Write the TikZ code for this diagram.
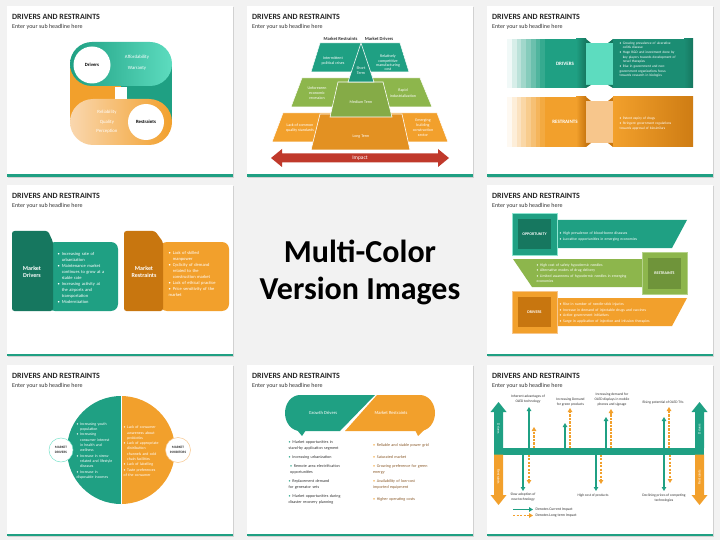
\documentclass[tikz,border=0pt]{standalone}
\usepackage{fontspec}
\setmainfont{Carlito}
\usepackage{xcolor}
\usepackage{tikz}
\usetikzlibrary{positioning, arrows.meta}
\definecolor{BG}{HTML}{F2F2F2}
\definecolor{T1}{HTML}{1FA083}
\definecolor{TD}{HTML}{16775F}
\definecolor{TL}{HTML}{5DDCBF}
\definecolor{O1}{HTML}{F2A02C}
\definecolor{OD}{HTML}{C8760F}
\definecolor{OL}{HTML}{F7C68C}
\definecolor{G1}{HTML}{8DB64C}
\definecolor{GD}{HTML}{6F943A}
\definecolor{GL}{HTML}{B5D38A}
\definecolor{R1}{HTML}{C0392B}
\definecolor{TX}{HTML}{333333}
\definecolor{BR}{HTML}{8A5A2A}
\newcommand{\fsz}[2]{\fontsize{#1}{#2}\selectfont}
\newcommand{\bitem}[2][.]{\par\hangindent=0.9em\hangafter=1\noindent\hbox to 0.9em{\textcolor{#1}{\textbullet}\hss}#2}

\begin{document}
\begin{tikzpicture}[
	x=1pt, y=-1pt,
	head/.style = {anchor=west, inner sep=0pt, text=black!85, font=\bfseries\fsz{8}{9.6}},
	subhead/.style = {anchor=west, inner sep=0pt, text=black!80, font=\fsz{6}{7.2}},
	wlbl/.style = {inner sep=0pt, align=center, text=white},
	dlbl/.style = {inner sep=0pt, align=center, text=TX},
	blist/.style = {anchor=west, inner sep=0pt, align=left, text width=#1},
	cur/.style = {draw=T1, line width=1.1pt, -{Triangle[length=4pt, width=4.5pt]}},
	lng/.style = {draw=O1, line width=1.1pt, dash pattern=on 2.2pt off 1.3pt, -{Triangle[length=4pt, width=4.5pt]}}
]
  \useasboundingbox (0,0) rectangle (720,540);
  \fill[BG] (0,0) rectangle (720,540);

  % Slide frames
  \foreach \sx/\sy/\sn in {7/6/a, 247/6/b, 487/6/c, 7/185/d, 487/185/f, 7/365/g, 247/365/h, 487/365/i} {
    \fill[black!18] (\sx+1.2,\sy+1.2) rectangle ++(226,171);
    \fill[white] (\sx,\sy) rectangle ++(226,171);
    \fill[T1] (\sx,\sy+168.5) rectangle ++(226,2.5);
    \node[head] (title-\sn) at (\sx+5,\sy+10.5) {DRIVERS AND RESTRAINTS};
    \node[subhead] (sub-\sn) at (\sx+5,\sy+20.5) {Enter your sub headline here};
  }

  % Center caption
  \node[inner sep=0pt, align=center, font=\bfseries\fsz{32}{37}] (mcv) at (360,272) {Multi-Color\\Version Images};

  % Slide 1: two pills
  \fill[O1] (70,64) rectangle (121,122);
  \fill[T1] (121,64) rectangle (172,122);
  \shade[left color=T1, right color=TL, rounded corners=22pt] (70,42) rectangle (172,86);
  \shade[left color=OL!70!white, right color=O1, rounded corners=23pt] (70,99) rectangle (172,145);
  \fill[white] (115,87) rectangle (127,99);
  \node[circle, fill=white, minimum size=37pt, inner sep=0pt, font=\bfseries\fsz{4.8}{5.8}] (drv) at (92,65) {Drivers};
  \node[circle, fill=white, minimum size=36pt, inner sep=0pt, font=\bfseries\fsz{4.8}{5.8}] (rst) at (146,122) {Restraints};
  \node[wlbl, font=\fsz{4.8}{5.8}] (aff) at (137,57) {Affordability};
  \node[wlbl, font=\fsz{4.8}{5.8}] (war) at (137,68.5) {Warranty};
  \node[wlbl, font=\fsz{4.8}{5.8}] (rel) at (107,112.5) {Reliability};
  \node[wlbl, font=\fsz{4.8}{5.8}] (qua) at (107,122) {Quality};
  \node[wlbl, font=\fsz{4.8}{5.8}] (per) at (107,131.7) {Perception};

  % Slide 2: pyramid
  \fill[O1, draw=white, line width=0.5pt] (283,113) -- (437,113) -- (448,142) -- (272,142) -- cycle;
  \fill[G1, draw=white, line width=0.5pt] (302,78) -- (420,78) -- (432,107) -- (291,107) -- cycle;
  \fill[T1, draw=white, line width=0.5pt] (320,43) -- (400,43) -- (409,72) -- (311,72) -- cycle;
  \fill[OD!35!O1, draw=white, line width=0.6pt] (320,114) -- (402,114) -- (410,150) -- (311,150) -- cycle;
  \fill[G1!94!black, draw=white, line width=0.6pt] (338,82) -- (383,82) -- (392,117) -- (330,117) -- cycle;
  \fill[T1!94!black, draw=white, line width=0.6pt] (361,43) -- (374,82) -- (348,82) -- cycle;
  \node[dlbl, font=\bfseries\fsz{4.6}{5.5}] (mrl) at (340.5,39) {Market Restraints};
  \node[dlbl, font=\bfseries\fsz{4.6}{5.5}] (mdl) at (379,39) {Market Drivers};
  \node[wlbl, font=\fsz{4}{4.6}] (t1l) at (333,61) {Intermittent\\political crises};
  \node[wlbl, font=\fsz{4}{4.4}] (t1r) at (388,63) {Relatively\\competitive\\manufacturing\\cost};
  \node[wlbl, font=\fsz{4}{5}] (stt) at (361,71) {Short\\Term};
  \node[wlbl, font=\fsz{4}{5}] (t2l) at (317,93) {Unforeseen\\economic\\recession};
  \node[wlbl, font=\fsz{4}{5.5}] (t2r) at (403,93) {Rapid\\industrialization};
  \node[wlbl, font=\fsz{4}{5}] (mdt) at (361,102) {Medium Term};
  \node[wlbl, font=\fsz{4}{5.6}] (t3l) at (300,128) {Lack of common\\quality standards};
  \node[wlbl, font=\fsz{4}{5}] (t3r) at (423,127.5) {Emerging\\building\\construction\\sector};
  \node[wlbl, font=\fsz{4}{5}] (lgt) at (361,136.5) {Long Term};
  \fill[R1] (271,158) -- (282,149) -- (282,153.5) -- (438,153.5) -- (438,149) -- (449,158) -- (438,167) -- (438,162.5) -- (282,162.5) -- (282,167) -- cycle;
  \node[wlbl, font=\fsz{5.5}{6.5}] (imp) at (360,158) {Impact};

  % Slide 3: bands
  \foreach \i [evaluate=\i as \pc using int(6+\i*12)] in {0,...,7} {
    \fill[T1!\pc] (507+\i*4.75,39) rectangle ++(4.8,49);
    \fill[O1!\pc] (507+\i*4.75,97) rectangle ++(4.8,50);
  }
  \fill[T1] (545,39) rectangle (586,88);
  \shade[left color=T1, right color=TD] (576,39) rectangle (586,88);
  \fill[TL] (586,43) rectangle (613,85);
  \fill[TD] (586,39) -- (591,43) -- (586,43) -- cycle;
  \fill[TD] (613,39) -- (608,43) -- (613,43) -- cycle;
  \fill[TD] (586,88) -- (591,85) -- (586,85) -- cycle;
  \fill[TD] (613,88) -- (608,85) -- (613,85) -- cycle;
  \fill[T1!88!black] (613,39) rectangle (693,88);
  \shade[left color=T1!88!black, right color=TD] (684,39) rectangle (693,88);
  \node[wlbl, font=\bfseries\fsz{5}{6}] (drvb) at (565,64) {DRIVERS};
  \node[blist=80pt, text=white, font={\fsz{3.5}{4.3}\setlength{\parskip}{1.1pt}}] (drvl) at (619.5,58) {\bitem{Growing prevalence of ulcerative\newline colitis disease}\bitem{Huge R\&D and investment done by\newline key players towards development of\newline novel therapies}\bitem{Rise in government and non-\newline government organizations focus\newline towards research in biologics}};
  \fill[O1] (545,97) rectangle (586,147);
  \shade[left color=O1, right color=OD] (576,97) rectangle (586,147);
  \fill[OL] (586,101) rectangle (613,143);
  \fill[OD] (586,97) -- (591,101) -- (586,101) -- cycle;
  \fill[OD] (613,97) -- (608,101) -- (613,101) -- cycle;
  \fill[OD] (586,147) -- (591,143) -- (586,143) -- cycle;
  \fill[OD] (613,147) -- (608,143) -- (613,143) -- cycle;
  \shade[left color=O1, right color=OD!85!O1] (613,97) rectangle (693,147);
  \node[wlbl, font=\bfseries\fsz{5}{6}] (rstb) at (565,122) {RESTRAINTS};
  \node[blist=80pt, text=white, font={\fsz{3.5}{4.3}\setlength{\parskip}{1.1pt}}] (rstl) at (619.5,122) {\bitem{Patent expiry of drugs}\bitem{Stringent government regulations\newline towards approval of biosimilars}};

  % Slide 4: folder tabs
  \fill[T1, rounded corners=7pt] (48,242) -- (118,242) -- (118,311) -- (48,311) -- cycle;
  \fill[TD, rounded corners=2.5pt] (12,311) -- (12,231) -- (48,231) -- (53,242) -- (53,311) -- cycle;
  \node[wlbl, font=\bfseries\fsz{6}{7.6}] (mkd) at (32,272) {Market\\Drivers};
  \node[blist=62pt, text=white, font={\fsz{4.5}{6}\setlength{\parskip}{0pt}}] (mkdl) at (57.5,276.5) {\bitem{Increasing rate of\newline urbanization}\bitem{Maintenance market\newline continues to grow at a\newline stable rate}\bitem{Increasing activity at\newline the airports and\newline transportation}\bitem{Modernization}};
  \fill[O1, rounded corners=7pt] (160,242) -- (229,242) -- (229,311) -- (160,311) -- cycle;
  \fill[OD, rounded corners=2.5pt] (124,311) -- (124,231) -- (155,231) -- (163,242) -- (163,311) -- cycle;
  \node[wlbl, font=\bfseries\fsz{6}{7.6}] (mkr) at (144,272) {Market\\Restraints};
  \node[blist=62pt, text=white, font={\fsz{4.5}{6}\setlength{\parskip}{0pt}}] (mkrl) at (168.5,273) {\bitem{Lack of skilled\newline manpower}\bitem{Cyclicity of demand\newline related to the\newline construction market}\bitem{Lack of ethical practice}\bitem{Price sensitivity of the\newline market}};

  % Slide 6: banners
  \fill[T1] (557,220) -- (687,220) -- (672,248) -- (557,248) -- cycle;
  \fill[T1, draw=TL!70, line width=0.6pt] (512,213) rectangle (557,255);
  \fill[TD] (518,219) rectangle (551,249);
  \node[wlbl, font=\bfseries\fsz{4}{5}] (opp) at (534.5,234) {OPPORTUNITY};
  \node[blist=120pt, text=white, font={\fsz{3.8}{5.5}\setlength{\parskip}{0pt}}] (oppl) at (559.5,235) {\bitem{High prevalence of blood-borne diseases}\bitem{Lucrative opportunities in emerging economies}};
  \fill[G1] (513,259) -- (642,259) -- (642,287) -- (532,287) -- cycle;
  \fill[G1, draw=GL, line width=0.6pt] (642,252) rectangle (687,294);
  \fill[GD] (648,258) rectangle (681,289);
  \node[wlbl, font=\bfseries\fsz{4}{5}] (rstg) at (664.5,273.5) {RESTRAINTS};
  \node[blist=110pt, text=white, font={\fsz{3.8}{5.3}\setlength{\parskip}{0pt}}] (rstgl) at (536.5,272) {\bitem{High cost of safety hypodermic needles}\bitem{Alternative modes of drug delivery}\bitem{Limited awareness of hypodermic needles in emerging}\par\noindent economies};
  \fill[O1] (557,298) -- (687,298) -- (672,326) -- (557,326) -- cycle;
  \fill[O1, draw=OL, line width=0.6pt] (512,291) rectangle (557,333);
  \fill[OD] (518,297) rectangle (551,327);
  \node[wlbl, font=\bfseries\fsz{4}{5}] (drvo) at (534.5,312) {DRIVERS};
  \node[blist=120pt, text=white, font={\fsz{3.8}{5.6}\setlength{\parskip}{0pt}}] (drvol) at (559.5,311.5) {\bitem{Rise in number of needle-stick injuries}\bitem{Increase in demand of injectable drugs and vaccines}\bitem{Active government initiatives}\bitem{Surge in application of injection and infusion therapies}};

  % Slide 7: split circle
  \fill[T1] (121,396) arc[start angle=270, end angle=90, radius=54] -- cycle;
  \fill[O1] (121,396) arc[start angle=270, end angle=450, radius=54] -- cycle;
  \draw[white, line width=0.8pt] (121,396) -- (121,504);
  \node[circle, fill=white, draw=TL!80, line width=0.5pt, minimum size=24pt, inner sep=0pt, align=center, text=TX, font=\bfseries\fsz{3.4}{4.2}] (mkdc) at (61,450) {MARKET\\DRIVERS};
  \node[circle, fill=white, draw=OL, line width=0.5pt, minimum size=25pt, inner sep=0pt, align=center, text=TX, font=\bfseries\fsz{3.4}{4.2}] (mkic) at (178,450) {MARKET\\INHIBITORS};
  \node[blist=50pt, text=white, font={\fsz{3.9}{5.3}\setlength{\parskip}{0pt}}] (mkdl7) at (76.5,449.5) {\bitem{Increasing youth\newline population}\bitem{Increasing\newline consumer interest\newline in health and\newline wellness}\bitem{Increase in stress-\newline related and lifestyle\newline diseases}\bitem{Increase in\newline disposable incomes}};
  \node[blist=50pt, text=white, font={\fsz{3.9}{5.3}\setlength{\parskip}{0pt}}] (mkil7) at (123.5,450) {\bitem{Lack of consumer\newline awareness about\newline probiotics}\bitem{Lack of appropriate\newline distribution\newline channels and cold\newline chain facilities}\bitem{Lack of labelling}\bitem{Taste preferences\newline of the consumer}};

  % Slide 8: speech shapes
  \fill[T1] (375,395) -- (300,395) arc[start angle=270, end angle=90, x radius=15, y radius=18] -- (340,431) -- cycle;
  \fill[T1] (297,430) -- (302,436) -- (306,430) -- cycle;
  \fill[O1] (377,395) -- (420,395) arc[start angle=270, end angle=450, x radius=15, y radius=18] -- (345,431) -- cycle;
  \fill[O1] (415,430) -- (418,436) -- (424,430) -- cycle;
  \node[wlbl, font=\fsz{4.6}{5.5}] (grd) at (323,413) {Growth Drivers};
  \node[wlbl, font=\fsz{4.6}{5.5}] (mkrs) at (391,413) {Market Restraints};
  \node[blist=80pt, text=TX, font=\fsz{4.1}{6}] (gd1) at (288.5,444) {\bitem[T1]{Market opportunities in\newline stand-by application segment}};
  \node[blist=80pt, text=TX, font=\fsz{4.1}{6}] (gd2) at (288.5,456) {\bitem[T1]{Increasing urbanization}};
  \node[blist=80pt, text=TX, font=\fsz{4.1}{6}] (gd3) at (290,468) {\bitem[T1]{Remote area electrification\newline opportunities}};
  \node[blist=80pt, text=TX, font=\fsz{4.1}{6}] (gd4) at (288.5,483) {\bitem[T1]{Replacement demand\newline for generator sets}};
  \node[blist=80pt, text=TX, font=\fsz{4.1}{6}] (gd5) at (288.5,498) {\bitem[T1]{Market opportunities during\newline disaster recovery planning}};
  \node[blist=80pt, text=BR, font=\fsz{4.1}{6}] (mr1) at (373,444) {\bitem[O1]{Reliable and stable power grid}};
  \node[blist=80pt, text=BR, font=\fsz{4.1}{6}] (mr2) at (373,456) {\bitem[O1]{Saturated market}};
  \node[blist=80pt, text=BR, font=\fsz{4.1}{6}] (mr3) at (373,468) {\bitem[O1]{Growing preference for green\newline energy}};
  \node[blist=80pt, text=BR, font=\fsz{4.1}{6}] (mr4) at (373,483) {\bitem[O1]{Availability of low-cost\newline imported equipment}};
  \node[blist=80pt, text=BR, font=\fsz{4.1}{6}] (mr5) at (373,498) {\bitem[O1]{Higher operating costs}};

  % Slide 9: impact chart
  \fill[T1] (494,448) rectangle (704,454.5);
  \fill[T1] (494,448) -- (494,412) -- (490.5,412) -- (498.5,402) -- (506.5,412) -- (503,412) -- (503,448) -- cycle;
  \fill[T1] (695,448) -- (695,412) -- (691.5,412) -- (699.5,402) -- (707.5,412) -- (704,412) -- (704,448) -- cycle;
  \fill[O1] (494,454.5) -- (494,495) -- (490.5,495) -- (498.5,505) -- (506.5,495) -- (503,495) -- (503,454.5) -- cycle;
  \fill[O1] (695,454.5) -- (695,495) -- (691.5,495) -- (699.5,505) -- (707.5,495) -- (704,495) -- (704,454.5) -- cycle;
  \node[wlbl, rotate=-90, font=\fsz{3.6}{4.3}] (drl) at (498.5,429) {Drivers};
  \node[wlbl, rotate=90, font=\fsz{3.6}{4.3}] (drr) at (699.5,429) {Drivers};
  \node[wlbl, rotate=-90, font=\fsz{3.6}{4.3}] (rsl) at (498.5,477) {Restraints};
  \node[wlbl, rotate=90, font=\fsz{3.6}{4.3}] (rsr) at (699.5,477) {Restraints};
  \foreach \n/\x/\y in {1/529/407, 3/565/423, 5/606/417, 7/664/417} {
    \coordinate (ub\n) at (\x,448);
    \coordinate (ut\n) at (\x,\y);
    \draw[cur] (ub\n) -- (ut\n);
  }
  \foreach \n/\x/\y in {2/534/427, 4/570/408, 6/611/409, 8/669/407} {
    \coordinate (ub\n) at (\x,448);
    \coordinate (ut\n) at (\x,\y);
    \draw[lng] (ub\n) -- (ut\n);
  }
  \foreach \n/\x/\y in {1/523/491, 3/596/491, 5/664/491} {
    \coordinate (db\n) at (\x,454.5);
    \coordinate (dt\n) at (\x,\y);
    \draw[cur] (db\n) -- (dt\n);
  }
  \foreach \n/\x/\y in {2/529/484, 4/601/484, 6/670/483} {
    \coordinate (db\n) at (\x,454.5);
    \coordinate (dt\n) at (\x,\y);
    \draw[lng] (db\n) -- (dt\n);
  }
  \node[dlbl, font=\fsz{3.6}{5}] (ul1) at (528,399) {Inherent advantages of\\OLED technology};
  \node[dlbl, font=\fsz{3.6}{5}] (ul2) at (570.5,401.8) {Increasing Demand\\for green products};
  \node[dlbl, font=\fsz{3.6}{5}] (ul3) at (612,399.3) {Increasing demand for\\OLED displays in mobile\\phones and signage};
  \node[dlbl, font=\fsz{3.6}{5}] (ul4) at (663,402.3) {Rising potential of OLED TVs};
  \node[dlbl, font=\fsz{3.6}{5}] (dl1) at (523,497.5) {Slow adoption of\\new technology};
  \node[dlbl, font=\fsz{3.6}{5}] (dl2) at (593,496) {High cost of products};
  \node[dlbl, font=\fsz{3.6}{5}] (dl3) at (664,498.5) {Declining prices of competing\\technologies};
  \coordinate (lga) at (513,509.5);
  \coordinate (lgb) at (533,509.5);
  \draw[cur] (lga) -- (lgb);
  \node[dlbl, anchor=west, font=\fsz{3.8}{4.5}] (lgt1) at (535.5,509.5) {Denotes Current Impact};
  \coordinate (lgc) at (513,515.5);
  \coordinate (lgd) at (533,515.5);
  \draw[lng] (lgc) -- (lgd);
  \node[dlbl, anchor=west, font=\fsz{3.8}{4.5}] (lgt2) at (535.5,515.5) {Denotes Long term Impact};
\end{tikzpicture}
\end{document}
